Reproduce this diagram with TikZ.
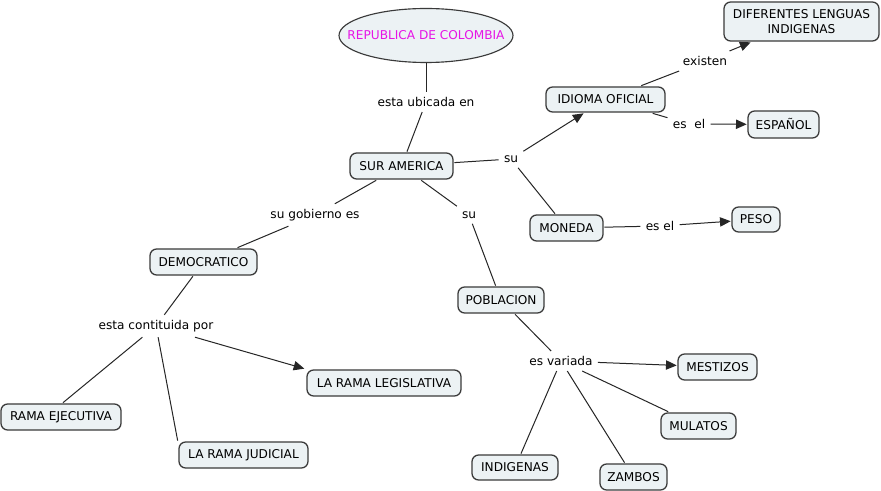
\documentclass[tikz,border=0pt]{standalone}
\usepackage{fontspec}
\setmainfont{DejaVu Sans}
\usetikzlibrary{arrows.meta,shapes.geometric}
\definecolor{boxfill}{HTML}{ECF2F4}
\definecolor{boxdraw}{HTML}{3A3A3A}
\definecolor{magtext}{RGB}{230,20,230}
\begin{document}
\begin{tikzpicture}[x=0.75pt,y=-0.75pt,
  every node/.style={font=\fontsize{9.1pt}{10.8pt}\selectfont},
  sz/.style 2 args={minimum width=#1*0.75pt, minimum height=#2*0.75pt},
  concept/.style={draw=boxdraw, fill=boxfill, rounded corners=5pt, line width=0.95pt, inner sep=0pt, outer sep=1pt, align=center},
  lbl/.style={inner sep=1.5pt, outer sep=2.5pt, fill=none},
  conn/.style={draw=black!85, line width=0.75pt},
  arr/.style={conn, -{Triangle[length=8pt,width=7pt]}}
]
\useasboundingbox (0,0) rectangle (881,491);
\fill[white] (0,0) rectangle (881,491);

% concepts
\node[ellipse, draw=boxdraw, fill=boxfill, line width=0.85pt, inner xsep=-13pt, inner ysep=0pt, sz={174}{54}, text=magtext] (rep) at (426,35.5) {REPUBLICA DE COLOMBIA};
\node[concept, sz={103}{26}] (sur) at (401.5,166) {SUR AMERICA};
\node[concept, sz={119}{25}] (idioma) at (605.5,99.5) {IDIOMA OFICIAL};
\node[concept, sz={155}{39}] (dif) at (801.5,21.5) {DIFERENTES LENGUAS\\INDIGENAS};
\node[concept, sz={71}{27}] (esp) at (783.5,124.5) {ESPAÑOL};
\node[concept, sz={73}{26}] (mon) at (566.5,228) {MONEDA};
\node[concept, sz={48}{25}] (peso) at (756,219.5) {PESO};
\node[concept, sz={107}{26}] (dem) at (203.5,262) {DEMOCRATICO};
\node[concept, sz={154}{26}] (leg) at (384,383) {LA RAMA LEGISLATIVA};
\node[concept, sz={120}{26}] (eje) at (61,417) {RAMA EJECUTIVA};
\node[concept, sz={129}{26}] (jud) at (243.5,455) {LA RAMA JUDICIAL};
\node[concept, sz={86}{26}] (pob) at (501,300) {POBLACION};
\node[concept, sz={79}{26}] (mes) at (717.5,367) {MESTIZOS};
\node[concept, sz={75}{26}] (mul) at (698.5,426) {MULATOS};
\node[concept, sz={67}{26}] (zam) at (633.5,477) {ZAMBOS};
\node[concept, sz={86}{25}] (ind) at (515,467.5) {INDIGENAS};

% linking phrases
\node[lbl] (l1) at (426,102) {esta ubicada en};
\node[lbl] (l2) at (511,159) {su};
\node[lbl] (l3) at (705,61) {existen};
\node[lbl] (l4) at (689,124) {es\ \ el};
\node[lbl] (l5) at (660,226) {es el};
\node[lbl] (l6) at (469,215) {su};
\node[lbl] (l7) at (315,215) {su gobierno es};
\node[lbl] (l8) at (156,326) {esta contituida por};
\node[lbl] (l9) at (561,361) {es variada};

% connectors
\draw[conn] (rep) -- (l1);
\draw[conn] (l1) -- (sur);
\draw[conn] (sur) -- (l2);
\draw[arr] (l2) -- (idioma);
\draw[conn] (l2) -- (mon);
\draw[conn] (idioma) -- (l3);
\draw[arr] (l3) -- (dif);
\draw[conn] (idioma) -- (l4);
\draw[arr] (l4) -- (esp);
\draw[conn] (mon) -- (l5);
\draw[arr] (l5) -- (peso);
\draw[conn] (sur) -- (l6);
\draw[conn] (l6) -- (pob);
\draw[conn] (sur) -- (l7);
\draw[conn] (l7) -- (dem);
\draw[conn] (dem) -- (l8);
\draw[arr] (l8) -- ([xshift=-1pt]leg.north west);
\draw[conn] (l8) -- ([xshift=1.5pt]eje.north);
\draw[conn] (l8) -- (jud.north west);
\draw[conn] (pob) -- (l9);
\draw[arr] (l9) -- (mes);
\draw[conn] (l9) -- (mul);
\draw[conn] (l9) -- (zam);
\draw[conn] (l9) -- (ind);
\end{tikzpicture}
\end{document}
